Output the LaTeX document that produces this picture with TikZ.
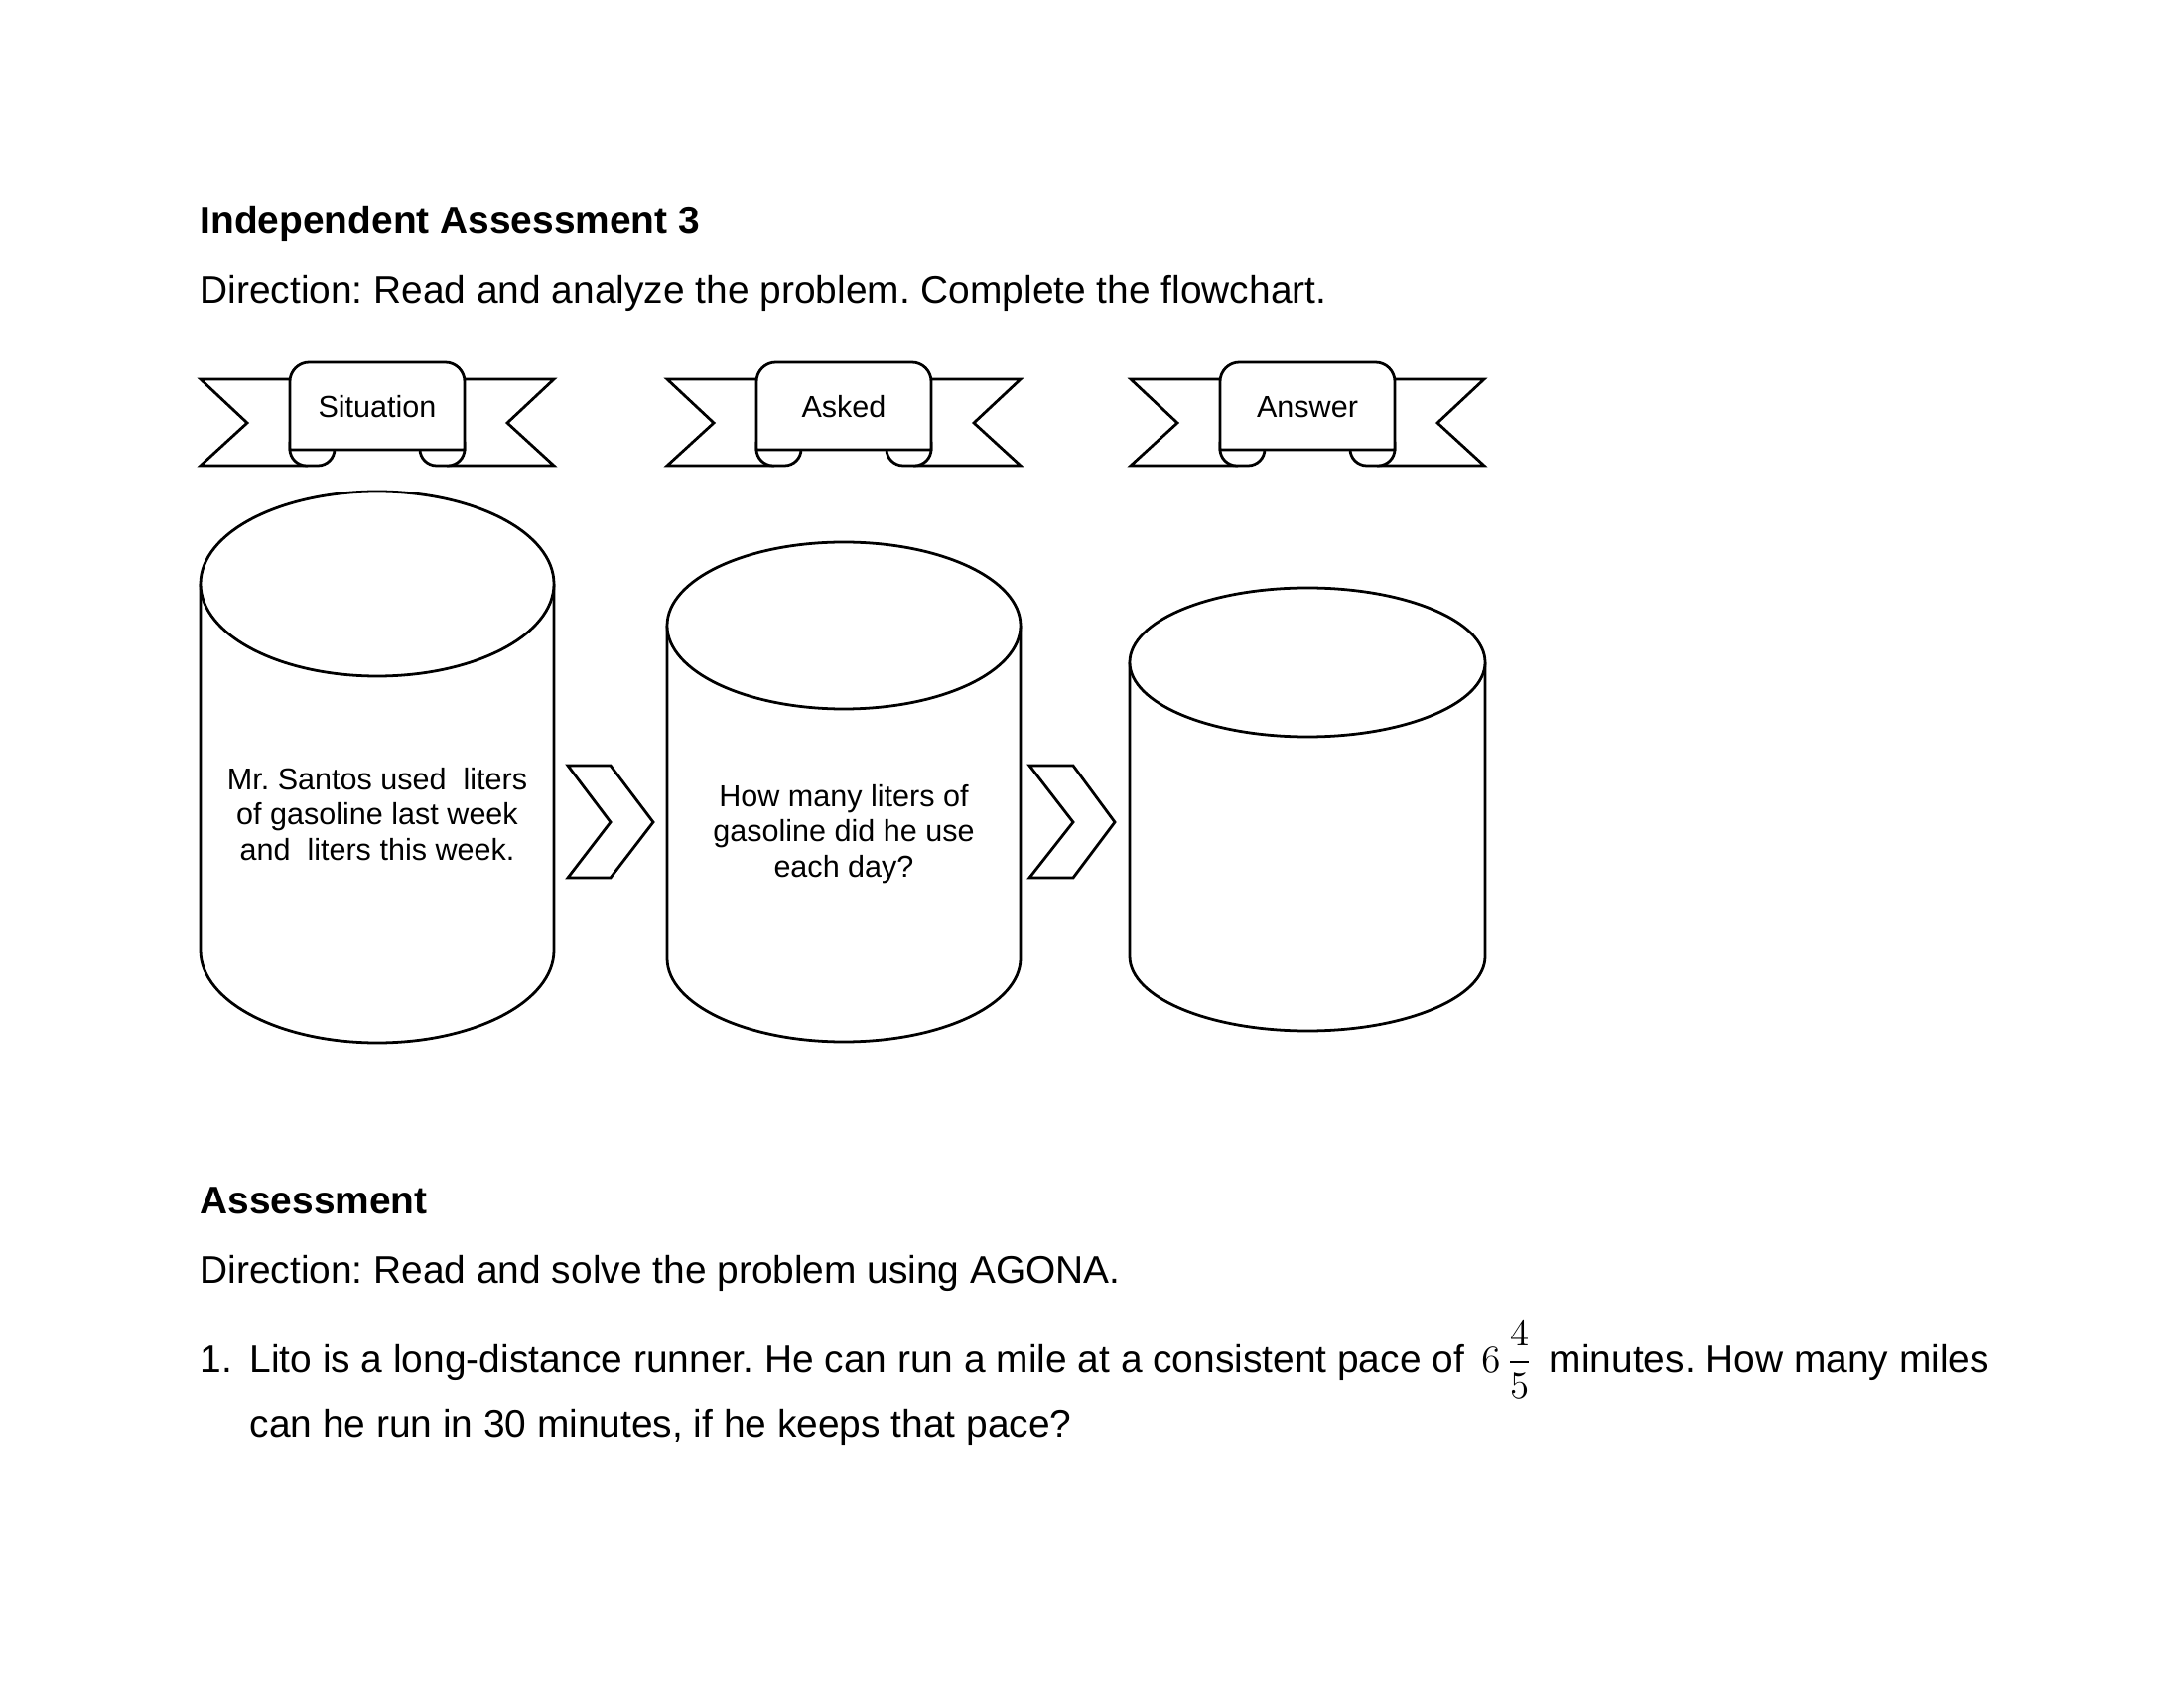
\documentclass[tikz,border=0pt]{standalone}
\usepackage{fix-cm}
\usepackage{amsmath}
\usepackage{fontspec}
\setmainfont{Liberation Sans}
\frenchspacing
\newcommand{\ribbonshape}[1]{%
  \draw[outline] ({#1-88},382) -- ({#1-178},382) -- ({#1-131},426) -- ({#1-178},469) -- ({#1-70},469);
  \draw[outline] ({#1+88},382) -- ({#1+178},382) -- ({#1+131},426) -- ({#1+178},469) -- ({#1+70},469);
  \draw[outline, rounded corners=6] ({#1-88},445) -- ({#1-88},469) -- ({#1-43},469) -- ({#1-43},445);
  \draw[outline, rounded corners=6] ({#1+88},445) -- ({#1+88},469) -- ({#1+43},469) -- ({#1+43},445);
  \draw[outline] ({#1-88},453) [rounded corners=7] -- ({#1-88},365) -- ({#1+88},365) [sharp corners] -- ({#1+88},453) -- cycle;
}
\newcommand{\drawcan}[5]{% cx, a, ytop, ybottom, b
  \draw[outline] ({#1-#2},{#3}) -- ({#1-#2},{#4})
    .. controls ({#1-#2},{#4+0.5523*#5}) and ({#1-0.5523*#2},{#4+#5}) .. ({#1},{#4+#5})
    .. controls ({#1+0.5523*#2},{#4+#5}) and ({#1+#2},{#4+0.5523*#5}) .. ({#1+#2},{#4})
    -- ({#1+#2},{#3});
  \draw[outline] ({#1},{#3}) ellipse [x radius=#2, y radius=#5];
}
\begin{document}
\begin{tikzpicture}[x=0.36pt,y=-0.36pt,
  outline/.style={draw=black, line width=1pt, fill=white, line join=miter},
  heading/.style={anchor=base west, font=\fontsize{14}{17}\selectfont\bfseries, inner sep=0pt},
  bodytext/.style={anchor=base west, font=\fontsize{14}{17}\selectfont, inner sep=0pt},
  bannerlabel/.style={font=\fontsize{11}{13}\selectfont, inner sep=0pt},
  cantext/.style={font=\fontsize{11}{12.65}\selectfont, align=center, inner sep=0pt}]
\fill[white] (0,0) rectangle (2200,1700);
\useasboundingbox (0,0) rectangle (2200,1700);

% headings
\node[heading] (title) at (201,236) {Independent Assessment 3};
\node[bodytext] (dir1) at (201,306) {Direction: Read and analyze the problem. Complete the flowchart.};

% ribbons
\ribbonshape{380}
\ribbonshape{850}
\ribbonshape{1317}
\node[bannerlabel] (lab1) at (380,410) {Situation};
\node[bannerlabel] (lab2) at (850,410) {Asked};
\node[bannerlabel] (lab3) at (1317,410) {Answer};

% cans
\drawcan{380}{178}{588}{957}{93}
\drawcan{850}{178}{630}{965}{84}
\drawcan{1317}{179}{667}{963}{75}
\node[cantext] (can1) at (380,820) {Mr. Santos used\ \ liters\\of gasoline last week\\and\ \ liters this week.};
\node[cantext] (can2) at (850,840) {How many liters of\\gasoline did he use\\each day?};

% chevrons
\draw[outline] (572,771) -- (615,771) -- (658,828) -- (615,884) -- (572,884) -- (615,828) -- cycle;
\draw[outline] (1037,771) -- (1081,771) -- (1123,828) -- (1081,884) -- (1037,884) -- (1081,828) -- cycle;

% assessment
\node[heading] (title2) at (201,1222) {Assessment};
\node[bodytext] (dir2) at (201,1292) {Direction: Read and solve the problem using AGONA.};
\node[bodytext] (qnum) at (201,1382) {1.};
\node[bodytext] (qline1) at (251,1382) {Lito is a long-distance runner. He can run a mile at a consistent pace of $\,6\,\dfrac{4}{5}\,$ minutes. How many miles};
\node[bodytext] (qline2) at (251,1447) {can he run in 30 minutes, if he keeps that pace?};
\end{tikzpicture}
\end{document}
